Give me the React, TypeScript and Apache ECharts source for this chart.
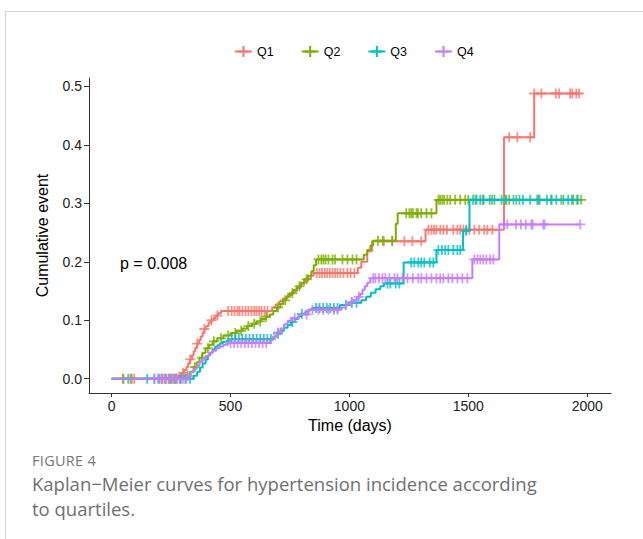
import React, { useEffect, useRef } from "react";
import * as echarts from "echarts";

const GROUPS = ["Q1", "Q2", "Q3", "Q4"];
const COLORS = ["#F8766D", "#7CAE00", "#00BFC4", "#C77CFF"];

const X_TICKS = [0, 500, 1000, 1500, 2000];
const Y_TICKS = [0, 0.1, 0.2, 0.3, 0.4, 0.5];

// Step times (days) and cumulative event values after each step
const Q1_TIMES = [0, 280, 295, 305, 315, 322, 330, 338, 345, 352, 360, 368, 375, 383, 390, 398, 408, 418, 428, 438, 448, 460, 675, 690, 705, 720, 740, 760, 778, 795, 810, 825, 838, 850, 1035, 1050, 1075, 1095, 1320, 1650, 1777];
const Q1_VALUES = [0, 0.005, 0.01, 0.015, 0.02, 0.027, 0.033, 0.04, 0.047, 0.053, 0.06, 0.066, 0.072, 0.079, 0.085, 0.09, 0.096, 0.1, 0.104, 0.108, 0.112, 0.116, 0.122, 0.127, 0.132, 0.137, 0.143, 0.149, 0.155, 0.161, 0.166, 0.171, 0.176, 0.181, 0.19, 0.2, 0.218, 0.235, 0.255, 0.413, 0.488];
const Q1_END = 1966;
const Q1_CENSOR = [50, 85, 95, 215, 230, 245, 260, 275, 300, 330, 360, 390, 420, 445, 490, 505, 517, 530, 538, 550, 563, 575, 588, 600, 609, 620, 630, 643, 655, 863, 875, 885, 897, 907, 918, 929, 940, 950, 962, 975, 992, 1005, 1021, 1145, 1180, 1231, 1265, 1302, 1332, 1345, 1356, 1366, 1382, 1395, 1410, 1437, 1454, 1466, 1479, 1492, 1504, 1525, 1546, 1567, 1580, 1601, 1672, 1706, 1760, 1777, 1807, 1868, 1882, 1928, 1937, 1954, 1966];

const Q2_TIMES = [0, 300, 330, 345, 358, 370, 382, 395, 410, 425, 445, 470, 500, 525, 550, 570, 590, 610, 630, 650, 665, 680, 695, 710, 722, 735, 750, 765, 780, 795, 810, 825, 840, 850, 860, 1060, 1075, 1088, 1100, 1195, 1203, 1366];
const Q2_VALUES = [0, 0.005, 0.012, 0.02, 0.028, 0.036, 0.044, 0.052, 0.058, 0.064, 0.069, 0.074, 0.078, 0.082, 0.086, 0.09, 0.094, 0.098, 0.102, 0.106, 0.11, 0.116, 0.122, 0.128, 0.134, 0.14, 0.146, 0.152, 0.158, 0.164, 0.17, 0.176, 0.184, 0.194, 0.204, 0.212, 0.22, 0.228, 0.236, 0.265, 0.283, 0.306];
const Q2_END = 1975;
const Q2_CENSOR = [48, 80, 210, 240, 265, 290, 320, 350, 380, 405, 430, 460, 490, 520, 545, 575, 600, 625, 650, 700, 730, 760, 790, 820, 870, 882, 891, 900, 912, 929, 940, 971, 992, 1013, 1030, 1120, 1140, 1180, 1239, 1252, 1260, 1267, 1282, 1288, 1302, 1324, 1345, 1375, 1382, 1391, 1399, 1412, 1424, 1445, 1466, 1487, 1500, 1530, 1560, 1600, 1655, 1672, 1702, 1794, 1849, 1891, 1941, 1958, 1975];

const Q3_TIMES = [0, 345, 360, 372, 383, 395, 405, 415, 425, 435, 445, 455, 468, 485, 500, 680, 695, 710, 725, 740, 755, 770, 785, 800, 815, 830, 845, 960, 1000, 1050, 1070, 1090, 1110, 1130, 1145, 1228, 1366, 1478, 1505];
const Q3_VALUES = [0, 0.005, 0.012, 0.019, 0.026, 0.033, 0.04, 0.045, 0.05, 0.054, 0.057, 0.06, 0.063, 0.065, 0.068, 0.072, 0.077, 0.082, 0.087, 0.092, 0.097, 0.102, 0.107, 0.111, 0.115, 0.118, 0.121, 0.126, 0.13, 0.134, 0.14, 0.147, 0.153, 0.158, 0.163, 0.199, 0.22, 0.253, 0.306];
const Q3_END = 1960;
const Q3_CENSOR = [70, 150, 180, 200, 225, 250, 270, 290, 310, 330, 505, 520, 535, 550, 565, 580, 595, 610, 625, 640, 655, 670, 700, 760, 800, 860, 875, 890, 905, 920, 935, 950, 985, 1010, 1030, 1160, 1172, 1195, 1210, 1260, 1273, 1290, 1302, 1315, 1338, 1353, 1374, 1389, 1403, 1416, 1437, 1454, 1466, 1490, 1520, 1535, 1550, 1565, 1590, 1610, 1640, 1660, 1690, 1715, 1730, 1760, 1790, 1800, 1830, 1850, 1870, 1900, 1920, 1935, 1960];

const Q4_TIMES = [0, 320, 333, 345, 358, 370, 383, 395, 410, 425, 440, 455, 470, 490, 665, 680, 695, 710, 725, 740, 756, 786, 828, 965, 985, 1000, 1018, 1034, 1045, 1055, 1065, 1075, 1088, 1517, 1630];
const Q4_VALUES = [0, 0.005, 0.011, 0.017, 0.023, 0.029, 0.034, 0.039, 0.044, 0.048, 0.052, 0.055, 0.058, 0.061, 0.066, 0.072, 0.079, 0.086, 0.093, 0.099, 0.104, 0.11, 0.118, 0.122, 0.127, 0.131, 0.135, 0.14, 0.145, 0.152, 0.158, 0.164, 0.172, 0.204, 0.264];
const Q4_END = 1971;
const Q4_CENSOR = [180, 195, 210, 225, 240, 255, 270, 285, 300, 315, 500, 515, 530, 545, 560, 575, 590, 605, 620, 635, 650, 700, 770, 820, 845, 870, 890, 912, 935, 950, 1010, 1040, 1100, 1109, 1124, 1139, 1151, 1168, 1189, 1202, 1223, 1244, 1267, 1290, 1302, 1324, 1345, 1366, 1382, 1395, 1416, 1433, 1454, 1475, 1496, 1525, 1538, 1550, 1563, 1576, 1592, 1605, 1650, 1664, 1700, 1721, 1742, 1765, 1771, 1815, 1821, 1971];

const CURVES = [
  { times: Q1_TIMES, values: Q1_VALUES, end: Q1_END, censor: Q1_CENSOR },
  { times: Q2_TIMES, values: Q2_VALUES, end: Q2_END, censor: Q2_CENSOR },
  { times: Q3_TIMES, values: Q3_VALUES, end: Q3_END, censor: Q3_CENSOR },
  { times: Q4_TIMES, values: Q4_VALUES, end: Q4_END, censor: Q4_CENSOR },
];

const PLUS = "path://M4.1,0H5.9V4.1H10V5.9H5.9V10H4.1V5.9H0V4.1H4.1Z";
const FONT = "Liberation Sans";

function valueAt(times: number[], values: number[], t: number) {
  let v = values[0];
  for (let i = 0; i < times.length; i++) {
    if (times[i] <= t) v = values[i];
  }
  return v;
}

export default function App() {
  const ref = useRef<HTMLDivElement>(null);
  useEffect(() => {
    if (!ref.current) return;
    const chart = echarts.init(ref.current, null, { renderer: "svg" });
    const series: any[] = [];
    CURVES.forEach((c, i) => {
      const pts = c.times.map((t, k) => [t, c.values[k]]);
      pts.push([c.end, c.values[c.values.length - 1]]);
      series.push({
        name: GROUPS[i],
        type: "line",
        step: "end",
        data: pts,
        showSymbol: false,
        symbol: PLUS,
        symbolSize: 9,
        lineStyle: { color: COLORS[i], width: 2 },
        itemStyle: { color: COLORS[i] },
        z: 2 + i,
      });
      series.push({
        name: GROUPS[i],
        type: "scatter",
        data: c.censor.map((t) => [t, valueAt(c.times, c.values, t)]),
        symbol: PLUS,
        symbolSize: 10,
        itemStyle: { color: COLORS[i] },
        z: 2 + i,
      });
    });
    chart.setOption({
      animation: false,
      textStyle: { fontFamily: FONT },
      legend: {
        data: GROUPS,
        left: 229,
        top: 40,
        itemWidth: 17,
        itemHeight: 14,
        itemGap: 27,
        textStyle: { fontSize: 12.5, color: "#000", fontFamily: FONT },
      },
      grid: { left: 89, right: 32, top: 78, bottom: 146, containLabel: false },
      xAxis: {
        type: "value",
        min: -95,
        max: 2100,
        name: "Time (days)",
        nameLocation: "middle",
        nameGap: 21,
        nameTextStyle: { fontSize: 16, color: "#000", fontFamily: FONT },
        axisLine: { onZero: false, lineStyle: { color: "#333", width: 1 } },
        axisTick: { show: true, length: 4, customValues: X_TICKS, lineStyle: { color: "#333" } },
        axisLabel: {
          customValues: X_TICKS,
          fontSize: 14,
          color: "#222",
          margin: 6,
          fontFamily: FONT,
          formatter: (v: number) => String(v),
        },
        splitLine: { show: false },
      },
      yAxis: {
        type: "value",
        min: -0.0245,
        max: 0.5145,
        name: "Cumulative event",
        nameLocation: "middle",
        nameGap: 39,
        nameTextStyle: { fontSize: 16, color: "#000", fontFamily: FONT },
        axisLine: { show: true, onZero: false, lineStyle: { color: "#333", width: 1 } },
        axisTick: { show: true, length: 5, customValues: Y_TICKS, lineStyle: { color: "#333" } },
        axisLabel: {
          customValues: Y_TICKS,
          fontSize: 14,
          color: "#222",
          margin: 7,
          fontFamily: FONT,
          formatter: (v: number) => v.toFixed(1),
        },
        splitLine: { show: false },
      },
      graphic: [
        {
          type: "text",
          left: 120,
          top: 255,
          style: { text: "p = 0.008", fontSize: 16, fill: "#000", fontFamily: FONT },
        },
      ],
      series,
    });
    return () => chart.dispose();
  }, []);

  return (
    <div style={{ position: "fixed", left: 0, top: 0, width: 643, height: 539, background: "#fff", overflow: "hidden" }}>
      <div
        style={{
          position: "absolute",
          left: 5,
          top: 11,
          width: 700,
          height: 600,
          borderTop: "1px solid #d4d4d4",
          borderLeft: "1px solid #d4d4d4",
        }}
      />
      <div ref={ref} style={{ position: "absolute", left: 0, top: 0, width: 643, height: 539 }} />
      <div
        style={{
          position: "absolute",
          left: 32,
          top: 451,
          fontFamily: "'Open Sans', sans-serif",
          fontSize: 14.5,
          color: "#777",
          letterSpacing: 0.3,
        }}
      >
        FIGURE 4
      </div>
      <div
        style={{
          position: "absolute",
          left: 32,
          top: 471,
          width: 600,
          fontFamily: "'Open Sans', sans-serif",
          fontSize: 18.5,
          lineHeight: "25px",
          color: "#707070",
        }}
      >
        Kaplan−Meier curves for hypertension incidence according
        <br />
        to quartiles.
      </div>
    </div>
  );
}
